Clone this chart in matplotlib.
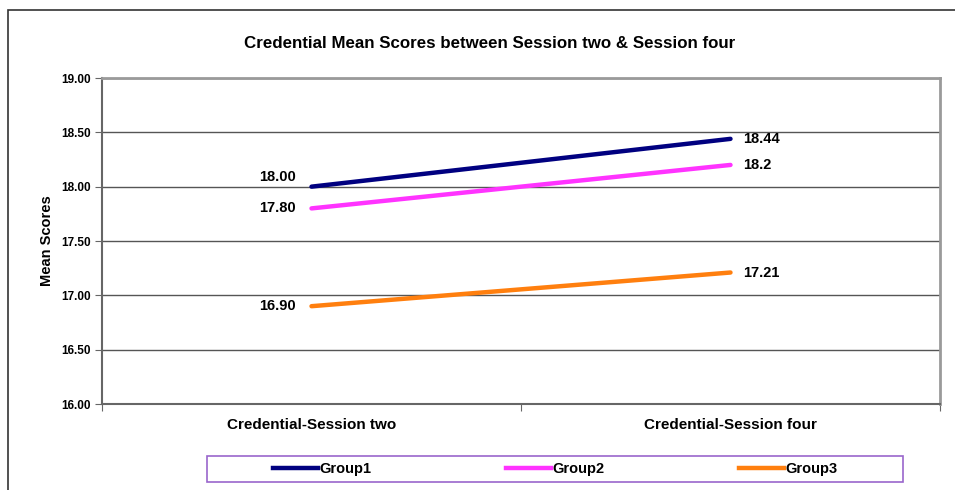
import matplotlib.pyplot as plt
from matplotlib.patches import Rectangle
from matplotlib.lines import Line2D

# --------------------------
# Data
# --------------------------
sessions = ['Credential-Session two', 'Credential-Session four']
groups = ['Group1', 'Group2', 'Group3']
group1 = [18.00, 18.44]
group2 = [17.80, 18.2]
group3 = [16.90, 17.21]
left_labels = ['18.00', '17.80', '16.90']
right_labels = ['18.44', '18.2', '17.21']
yticks = [16.0, 16.5, 17.0, 17.5, 18.0, 18.5, 19.0]

colors = ['#000080', '#FF33FF', '#FF7F0E']
left_offsets = [7, 0, 0]

plt.rcParams['font.family'] = ['Liberation Sans', 'DejaVu Sans']

fig = plt.figure(figsize=(9.55, 4.9), dpi=100)
ax = fig.add_axes([102 / 955, 1 - 404 / 490, 838 / 955, 326 / 490])

x = [0, 1]
series = [group1, group2, group3]
for vals, c, name in zip(series, colors, groups):
    ax.plot(x, vals, color=c, linewidth=3.2, solid_capstyle='round', label=name, zorder=3)

# value labels
for vals, lab, dy in zip(series, left_labels, left_offsets):
    ax.annotate(lab, (0, vals[0]), xytext=(-11, dy), textcoords='offset points',
                ha='right', va='center', fontsize=10.5, fontweight='bold')
for vals, lab in zip(series, right_labels):
    ax.annotate(lab, (1, vals[1]), xytext=(9, 0), textcoords='offset points',
                ha='left', va='center', fontsize=10.5, fontweight='bold')

ax.set_xlim(-0.5, 1.5)
ax.set_ylim(16, 19)
ax.set_yticks(yticks)
ax.set_yticklabels([f'{v:.2f}' for v in yticks], fontsize=8.5, fontweight='bold')
ax.yaxis.grid(True, color='#555555', linewidth=1)
ax.set_axisbelow(True)

# category ticks between categories, labels centred
ax.set_xticks([-0.5, 0.5, 1.5])
ax.set_xticklabels([])
ax.set_xticks([0, 1], minor=True)
ax.set_xticklabels(sessions, minor=True, fontsize=11, fontweight='bold')
ax.tick_params(axis='x', which='minor', length=0, pad=10)
ax.tick_params(axis='x', which='major', length=5, color='#666666')
ax.tick_params(axis='y', length=5, color='#666666', pad=3)

for side in ['left', 'bottom']:
    ax.spines[side].set_color('#666666')
    ax.spines[side].set_linewidth(1.5)
for side in ['top', 'right']:
    ax.spines[side].set_color('#9a9a9a')
    ax.spines[side].set_linewidth(2)

ax.set_ylabel('Mean Scores', fontsize=10.5, fontweight='bold', labelpad=5)

fig.text(490 / 955, 1 - 44 / 490, 'Credential Mean Scores between Session two & Session four',
         ha='center', va='center', fontsize=12.2, fontweight='bold')

# outer chart border (right and bottom run off the picture)
fig.patches.append(Rectangle((8 / 955, -0.05), 1.05, 1 - 10 / 490 + 0.05,
                             transform=fig.transFigure, fill=False,
                             edgecolor='#333333', linewidth=1.2))

# legend box
fig.patches.append(Rectangle((207 / 955, 1 - 482 / 490), 696 / 955, 26 / 490,
                             transform=fig.transFigure, fill=False,
                             edgecolor='#9966CC', linewidth=1.2))
handles = [Line2D([0], [0], color=c, linewidth=3.2) for c in colors]
fig.legend(handles, groups, loc='center', bbox_to_anchor=(555 / 955, 1 - 469 / 490),
           ncol=3, frameon=False, handlelength=3.1, handletextpad=0.1,
           columnspacing=9.2, prop={'weight': 'bold', 'size': 10.5})

fig.savefig('out.png', dpi=100)
